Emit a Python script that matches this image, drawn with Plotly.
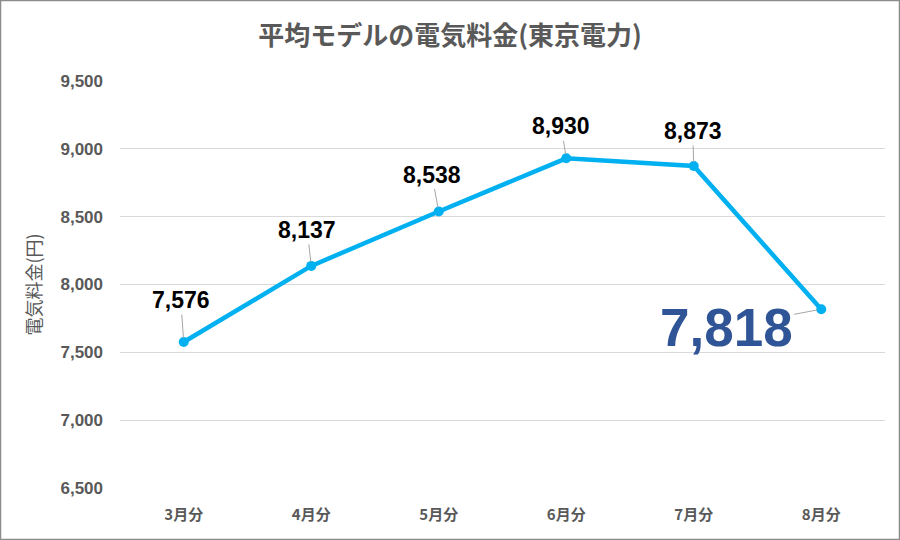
import plotly.graph_objects as go

categories = ["3月分", "4月分", "5月分", "6月分", "7月分", "8月分"]
values = [7576, 8137, 8538, 8930, 8873, 7818]
tick_vals = [6500, 7000, 7500, 8000, 8500, 9000, 9500]
tick_text = ["6,500", "7,000", "7,500", "8,000", "8,500", "9,000", "9,500"]

FONT = "Liberation Sans, Arial, Noto Sans CJK JP, sans-serif"
JP = "Noto Sans CJK JP, sans-serif"

fig = go.Figure()
fig.add_trace(go.Scatter(
    x=categories, y=values, mode="lines+markers",
    line=dict(color="#00B0F0", width=4.5),
    marker=dict(color="#00B0F0", size=10),
    hoverinfo="skip", showlegend=False,
))

# label offsets (pixels) for each data label
offsets = [(-3, -42), (-4, -36), (-7, -37), (-5, -32), (-1, -35), (-95, 18)]
for i, (c, v) in enumerate(zip(categories, values)):
    ax, ay = offsets[i]
    last = i == len(values) - 1
    fig.add_annotation(
        x=c, y=v, text=f"{v:,}", showarrow=True,
        ax=ax, ay=ay, arrowhead=0, arrowwidth=1, arrowcolor="#A6A6A6",
        standoff=4,
        font=dict(family=FONT, size=53 if last else 23,
                  color="#2F5597" if last else "#000000",
                  weight="bold"),
    )

# outer border
L, R, T, B = 120, 885, 81, 488
W, H = R - L, B - T
fig.add_shape(type="rect", xref="paper", yref="paper",
              x0=(0.5 - L) / W, x1=(899.5 - L) / W,
              y0=(B - 539.5) / H, y1=(B - 0.5) / H,
              line=dict(color="#8C8C8C", width=1.5), fillcolor="rgba(0,0,0,0)",
              layer="below")

fig.update_layout(
    width=900, height=540,
    margin=dict(l=L, r=900 - R, t=T, b=540 - B),
    paper_bgcolor="white", plot_bgcolor="white",
    title=dict(text="平均モデルの電気料金(東京電力)", x=0.5, xanchor="center",
               y=1 - 36 / 540, yanchor="middle",
               font=dict(family=JP, size=26, color="#595959", weight="bold")),
    xaxis=dict(showgrid=False, showline=False, zeroline=False, ticks="",
               range=[-0.5, 5.5],
               tickfont=dict(family=JP, size=15, color="#595959", weight="bold"),
               ticklabelstandoff=16, fixedrange=True),
    yaxis=dict(range=[6500, 9500], tickvals=tick_vals, ticktext=tick_text,
               showgrid=True, gridcolor="#D9D9D9", gridwidth=1,
               zeroline=False, showline=False, ticks="",
               tickfont=dict(family=FONT, size=17, color="#595959", weight="bold"),
               ticklabelstandoff=16,
               title=dict(text="電気料金(円)", standoff=14,
                          font=dict(family=JP, size=18, color="#595959"))),
)

fig.write_html("out.html")
